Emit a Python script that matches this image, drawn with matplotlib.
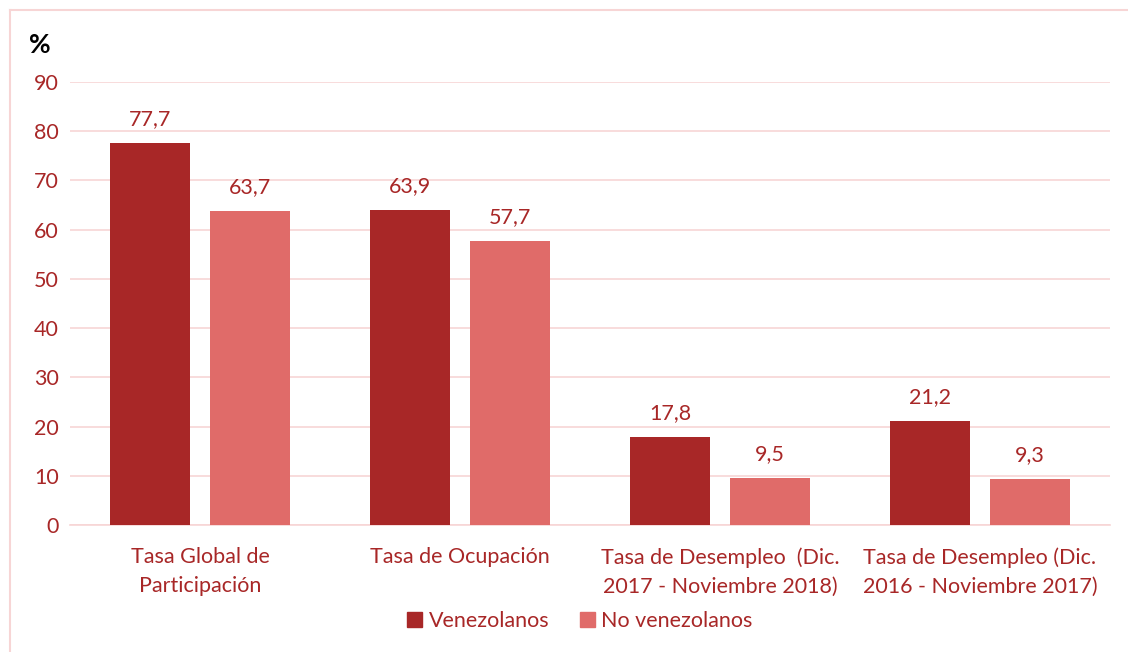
import matplotlib.pyplot as plt
import numpy as np
from matplotlib.patches import Patch
from matplotlib.lines import Line2D

categorias = [
    "Tasa Global de\nParticipación",
    "Tasa de Ocupación",
    "Tasa de Desempleo  (Dic.\n2017 - Noviembre 2018)",
    "Tasa de Desempleo (Dic.\n2016 - Noviembre 2017)",
]
venezolanos = [77.7, 63.9, 17.8, 21.2]
no_venezolanos = [63.7, 57.7, 9.5, 9.3]
series = ["Venezolanos", "No venezolanos"]

DARK = "#A82727"
LIGHT = "#E06B69"
TEXT = "#A82727"
GRID = "#F7D5D5"
FS = 15.5

plt.rcParams['font.family'] = ['Lato', 'DejaVu Sans']

fig = plt.figure(figsize=(11.28, 6.52), dpi=100)
ax = fig.add_axes([70 / 1128, 1 - 525 / 652, 1040 / 1128, (525 - 82) / 652])

x = np.arange(len(categorias))
w = 80 / 260
off = 50 / 260
b1 = ax.bar(x - off, venezolanos, w, color=DARK, zorder=3)
b2 = ax.bar(x + off, no_venezolanos, w, color=LIGHT, zorder=3)

for bars in (b1, b2):
    for r in bars:
        ax.annotate(f"{r.get_height():.1f}".replace(".", ","),
                    (r.get_x() + r.get_width() / 2, r.get_height()),
                    xytext=(0, 10), textcoords="offset points",
                    ha="center", va="bottom", fontsize=FS, color=TEXT)

ax.set_xlim(-0.5, 3.5)
ax.set_ylim(0, 90)
ax.set_yticks(range(0, 91, 10))
ax.grid(axis="y", color=GRID, linewidth=1.2, zorder=0)
ax.set_axisbelow(True)
for s in ["top", "right", "left"]:
    ax.spines[s].set_visible(False)
ax.spines["bottom"].set_color(GRID)
ax.spines["bottom"].set_linewidth(1.2)
ax.tick_params(axis="both", length=0, labelsize=FS, colors=TEXT)
ax.tick_params(axis="y", pad=8)
ax.tick_params(axis="x", pad=16)
ax.set_xticks(x)
ax.set_xticklabels(categorias, linespacing=1.55)

fig.text(40 / 1128, 1 - 45 / 652, "%", fontsize=19, fontweight="bold",
         color="black", ha="center", va="center")

handles = [Patch(color=DARK), Patch(color=LIGHT)]
leg = fig.legend(handles, series, loc="center", bbox_to_anchor=(580 / 1128, 1 - 621 / 652),
                 ncol=2, frameon=False, fontsize=FS, handlelength=0.7, handleheight=0.7,
                 handletextpad=0.3, columnspacing=1.4)
for t in leg.get_texts():
    t.set_color(TEXT)

# borde del gráfico
fig.add_artist(Line2D([10 / 1128, 1], [1 - 10 / 652] * 2, color=GRID, lw=1.5))
fig.add_artist(Line2D([10 / 1128] * 2, [0, 1 - 10 / 652], color=GRID, lw=1.5))

fig.savefig("out.png", dpi=100)
